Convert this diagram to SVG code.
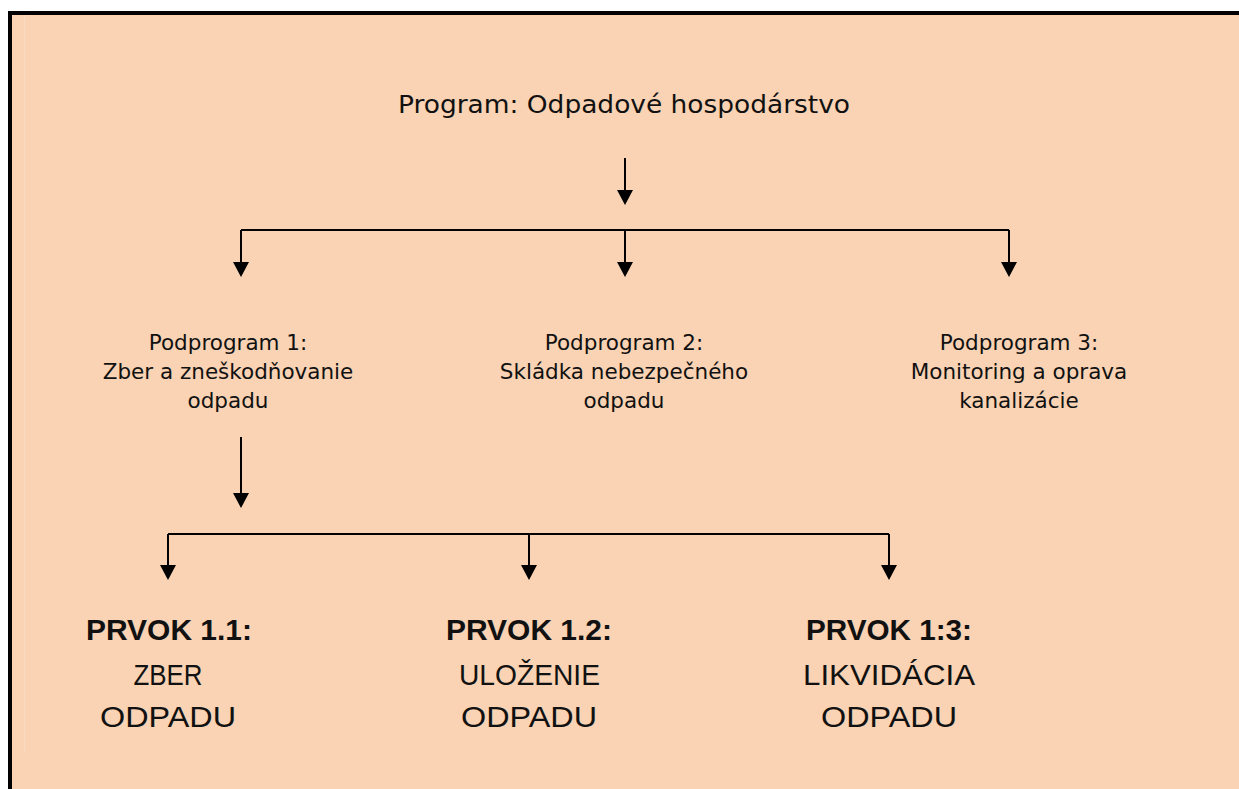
<svg xmlns="http://www.w3.org/2000/svg" width="1239" height="789" viewBox="0 0 1239 789">
<style>
.pg{font-family:"DejaVu Sans",Verdana,sans-serif;font-size:21.5px;fill:#111;text-anchor:middle}
.top{font-family:"DejaVu Sans",sans-serif;font-size:24px;fill:#111;text-anchor:middle}
.hb{font-family:"Liberation Sans",Arial,sans-serif;font-size:30px;font-weight:bold;fill:#111;text-anchor:middle}
.hr{font-family:"Liberation Sans",Arial,sans-serif;font-size:30px;fill:#111;text-anchor:middle}
.ln{fill:none;stroke:#000;stroke-width:2}
</style>
<defs>
<marker id="ah" markerUnits="userSpaceOnUse" markerWidth="16" markerHeight="16" refX="0" refY="8" orient="auto" viewBox="0 0 15 16">
<path d="M0,0 L15,8 L0,16 z" fill="#000"/>
</marker>
</defs>
<rect x="0" y="0" width="1239" height="789" fill="#ffffff"/>
<rect x="12" y="15" width="1227" height="774" fill="#F9D3B4"/>
<line x1="24.5" y1="15" x2="24.5" y2="753" stroke="#FBDAC0" stroke-width="1"/>
<rect x="8" y="11" width="1231" height="4" fill="#000"/>
<rect x="8" y="11" width="4" height="778" fill="#000"/>

<g id="program">
<text class="top" x="624" y="113" textLength="452" lengthAdjust="spacingAndGlyphs">Program: Odpadové hospodárstvo</text>
</g>

<g id="podprogram1">
<text class="pg" x="228" y="350">Podprogram 1:</text>
<text class="pg" x="228" y="379">Zber a zneškodňovanie</text>
<text class="pg" x="228" y="408">odpadu</text>
</g>
<g id="podprogram2">
<text class="pg" x="624" y="350">Podprogram 2:</text>
<text class="pg" x="624" y="379">Skládka nebezpečného</text>
<text class="pg" x="624" y="408">odpadu</text>
</g>
<g id="podprogram3">
<text class="pg" x="1019" y="350">Podprogram 3:</text>
<text class="pg" x="1019" y="379">Monitoring a oprava</text>
<text class="pg" x="1019" y="408">kanalizácie</text>
</g>

<g id="prvok11">
<text class="hb" x="169" y="640" textLength="166" lengthAdjust="spacingAndGlyphs">PRVOK 1.1:</text>
<text class="hr" x="168" y="685" textLength="69" lengthAdjust="spacingAndGlyphs">ZBER</text>
<text class="hr" x="168" y="727" textLength="136" lengthAdjust="spacingAndGlyphs">ODPADU</text>
</g>
<g id="prvok12">
<text class="hb" x="529" y="640" textLength="166" lengthAdjust="spacingAndGlyphs">PRVOK 1.2:</text>
<text class="hr" x="529.5" y="685" textLength="141" lengthAdjust="spacingAndGlyphs">ULOŽENIE</text>
<text class="hr" x="529" y="727" textLength="136" lengthAdjust="spacingAndGlyphs">ODPADU</text>
</g>
<g id="prvok13">
<text class="hb" x="889" y="640" textLength="166" lengthAdjust="spacingAndGlyphs">PRVOK 1:3:</text>
<text class="hr" x="889" y="685" textLength="172" lengthAdjust="spacingAndGlyphs">LIKVIDÁCIA</text>
<text class="hr" x="889" y="727" textLength="136" lengthAdjust="spacingAndGlyphs">ODPADU</text>
</g>

<g id="connectors">
<path class="ln" d="M625,158 V190" marker-end="url(#ah)"/>
<path class="ln" d="M241,230 H1009"/>
<path class="ln" d="M241,230 V262" marker-end="url(#ah)"/>
<path class="ln" d="M625,230 V262" marker-end="url(#ah)"/>
<path class="ln" d="M1009,230 V262" marker-end="url(#ah)"/>
<path class="ln" d="M241,437 V493" marker-end="url(#ah)"/>
<path class="ln" d="M168,534 H889"/>
<path class="ln" d="M168,534 V565" marker-end="url(#ah)"/>
<path class="ln" d="M529,534 V565" marker-end="url(#ah)"/>
<path class="ln" d="M889,534 V565" marker-end="url(#ah)"/>
</g>
</svg>
